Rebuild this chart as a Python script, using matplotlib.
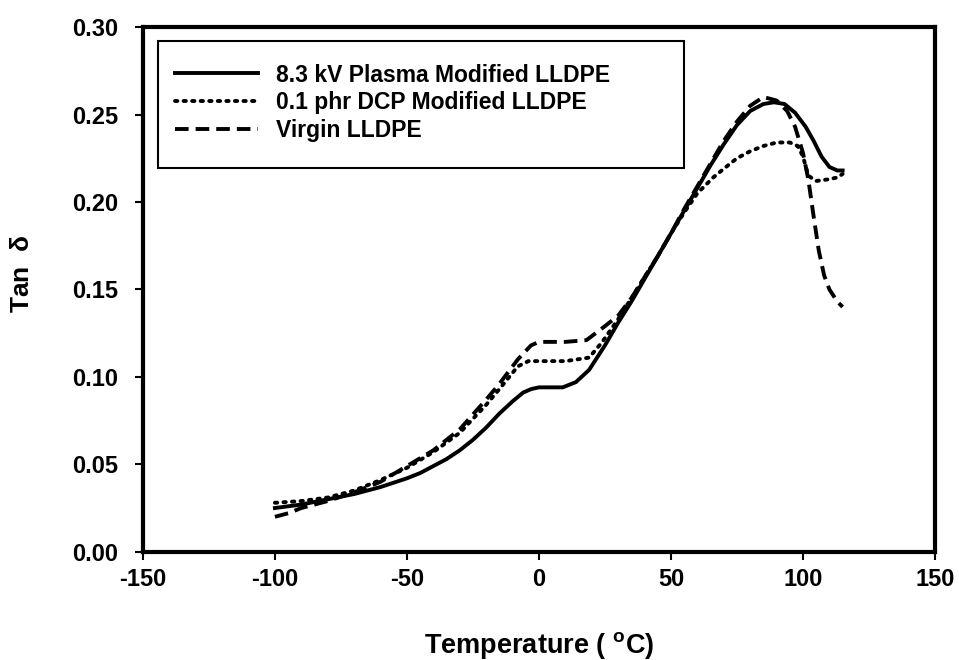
# -*- coding: utf-8 -*-
"""
Tan delta vs temperature for three LLDPE samples.
"""

import matplotlib
matplotlib.use('Agg')
import matplotlib.pyplot as plt
from matplotlib.patches import Rectangle


# --- data ---
T_PLASMA = [-100, -90, -80, -70, -60, -50, -45, -40, -35, -30, -25, -20,
            -15, -10, -6, -3, 0, 5, 9, 14, 19, 25, 30, 35, 40, 45, 50, 55,
            60, 65, 70, 75, 80, 85, 89, 93, 97, 101, 104, 107, 110, 113, 115]
V_PLASMA = [0.025, 0.027, 0.030, 0.033, 0.037, 0.042, 0.045, 0.049, 0.053,
            0.058, 0.064, 0.071, 0.079, 0.086, 0.091, 0.093, 0.094, 0.094,
            0.094, 0.097, 0.104, 0.118, 0.131, 0.143, 0.156, 0.169, 0.182,
            0.195, 0.208, 0.221, 0.233, 0.244, 0.252, 0.256, 0.257, 0.256,
            0.251, 0.243, 0.235, 0.226, 0.220, 0.218, 0.218]

T_DCP = [-100, -90, -80, -70, -60, -50, -40, -30, -20, -15, -8, -4, 0, 10,
         19, 24, 30, 35, 40, 45, 50, 55, 60, 66, 70, 75, 80, 85, 90, 95, 98,
         100, 102, 105, 110, 113, 115]
V_DCP = [0.028, 0.029, 0.031, 0.035, 0.041, 0.048, 0.057, 0.068, 0.084,
         0.093, 0.106, 0.109, 0.109, 0.109, 0.111, 0.120, 0.133, 0.145,
         0.157, 0.169, 0.182, 0.194, 0.205, 0.214, 0.219, 0.225, 0.229,
         0.232, 0.234, 0.234, 0.232, 0.226, 0.215, 0.212, 0.213, 0.214,
         0.216]

T_VIRGIN = [-100, -95, -90, -80, -70, -60, -50, -40, -30, -20, -15, -8, -3,
            0, 10, 18, 25, 30, 35, 40, 45, 50, 55, 60, 65, 70, 75, 80, 85,
            90, 94, 97, 100, 102, 104, 106, 108, 110, 113, 115]
V_VIRGIN = [0.020, 0.022, 0.025, 0.029, 0.034, 0.040, 0.049, 0.058, 0.070,
            0.087, 0.096, 0.110, 0.118, 0.120, 0.120, 0.121, 0.129, 0.135,
            0.145, 0.157, 0.169, 0.182, 0.196, 0.209, 0.222, 0.235, 0.246,
            0.255, 0.260, 0.258, 0.252, 0.243, 0.228, 0.213, 0.192, 0.172,
            0.158, 0.150, 0.143, 0.140]

LABELS = ['8.3 kV Plasma Modified LLDPE',
          '0.1 phr DCP Modified LLDPE',
          'Virgin LLDPE']

X_TICKS = [-150, -100, -50, 0, 50, 100, 150]
Y_TICKS = [0.00, 0.05, 0.10, 0.15, 0.20, 0.25, 0.30]


# fonts
plt.rcParams['font.family'] = ['Liberation Sans', 'DejaVu Sans']
plt.rcParams['font.weight'] = 'bold'
plt.rcParams['axes.unicode_minus'] = False
plt.rcParams['mathtext.fontset'] = 'custom'
plt.rcParams['mathtext.bf'] = 'Liberation Sans:bold'
plt.rcParams['mathtext.rm'] = 'Liberation Sans:bold'

# set figure
fig = plt.figure(figsize=(9.59, 6.60), dpi=100)
ax = fig.add_axes([0.149, 0.164, 0.826, 0.795])

# plot curves
ax.plot(T_PLASMA, V_PLASMA, color='black', lw=2.8, ls='-',
        label=LABELS[0])
ax.plot(T_DCP, V_DCP, color='black', lw=2.8, ls=(0, (0.6, 1.6)),
        dash_capstyle='round', label=LABELS[1])
ax.plot(T_VIRGIN, V_VIRGIN, color='black', lw=2.8, ls=(0, (3.5, 1.8)),
        label=LABELS[2])

# adjust axes
ax.set_xlim(-150, 150)
ax.set_ylim(0.0, 0.30)
ax.set_xticks(X_TICKS)
ax.set_yticks(Y_TICKS)
ax.set_yticklabels(['%.2f' % v for v in Y_TICKS])
for spine in ax.spines.values():
    spine.set_linewidth(3)
ax.tick_params(direction='out', length=6, width=1.5, labelsize=17)
ax.tick_params(axis='y', pad=12)
ax.tick_params(axis='x', pad=6)

ax.set_xlabel('Temperature ( $^{\\mathbf{o}}$C)', fontsize=19.5,
              fontweight='bold', labelpad=28)
ax.set_ylabel('Tan  $\\mathbf{\\delta}$', fontsize=19, fontweight='bold',
              labelpad=22)
ax.yaxis.set_label_coords(-0.138, 0.53)

# legend with a hand-sized frame
ax.add_patch(Rectangle((0.019, 0.731), 0.664, 0.242,
                       transform=ax.transAxes, fill=False,
                       edgecolor='black', lw=1.5, zorder=3))
leg = ax.legend(loc='upper left', bbox_to_anchor=(0.029, 0.948),
                frameon=False, fontsize=16.5, handlelength=3.6,
                handletextpad=0.8, labelspacing=0.2, borderaxespad=0)

# save figure
fig.savefig('out.png', dpi=100)
